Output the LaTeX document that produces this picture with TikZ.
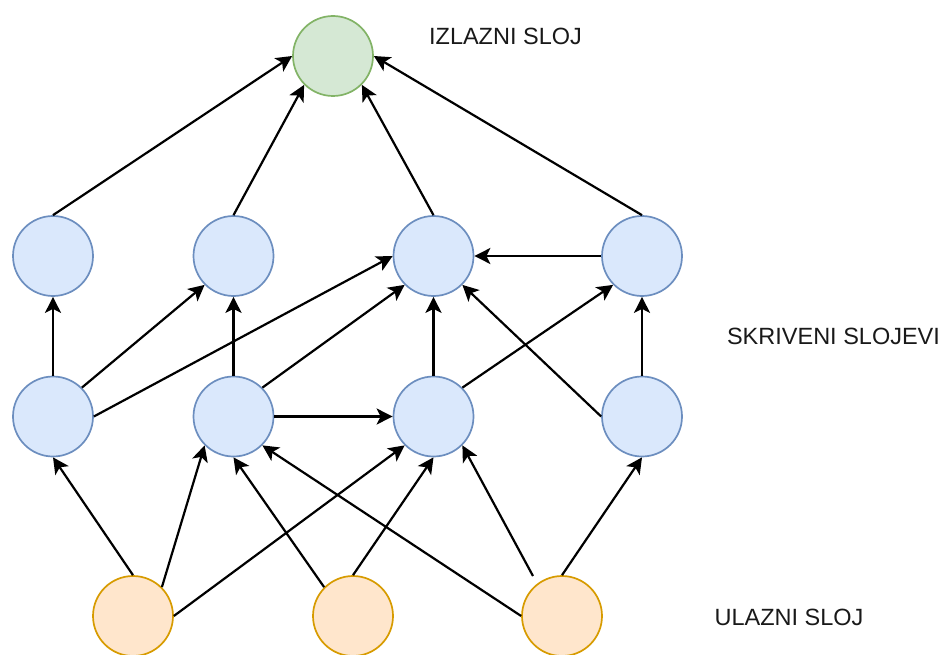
\documentclass[tikz,border=0pt]{standalone}
\usepackage{fontspec}
\setmainfont{Liberation Sans}
\usetikzlibrary{arrows.meta}
\definecolor{bfill}{HTML}{DAE8FC}
\definecolor{bdraw}{HTML}{6C8EBF}
\definecolor{gfill}{HTML}{D5E8D4}
\definecolor{gdraw}{HTML}{82B366}
\definecolor{ofill}{HTML}{FFE6CC}
\definecolor{odraw}{HTML}{D79B00}
\begin{document}
\begin{tikzpicture}[x=1pt,y=-1pt,
  neuron/.style={circle, draw, line width=1.7pt, minimum size=80pt, inner sep=0pt},
  hid/.style={neuron, fill=bfill, draw=bdraw},
  outn/.style={neuron, fill=gfill, draw=gdraw},
  inn/.style={neuron, fill=ofill, draw=odraw},
  conn/.style={line width=2.2pt, -{Stealth[length=16pt,width=16pt,inset=4pt]}},
  lbl/.style={font=\fontsize{23.5}{28}\selectfont, inner sep=0pt, anchor=center, text=black!90}]
\useasboundingbox (0,0) rectangle (944,655);

% nodes
\node[outn] (out) at (333,56) {};
\node[hid] (a1) at (53,256) {};
\node[hid] (a2) at (233.5,256) {};
\node[hid] (a3) at (433.5,256) {};
\node[hid] (a4) at (642,256) {};
\node[hid] (b1) at (53,416.5) {};
\node[hid] (b2) at (233.5,416.5) {};
\node[hid] (b3) at (433.5,416.5) {};
\node[hid] (b4) at (642,416.5) {};
\node[inn] (i1) at (133,616) {};
\node[inn] (i2) at (353,616) {};
\node[inn] (i3) at (562,616) {};
\coordinate (i3s) at (533,576);

% labels
\node[lbl] (lo) at (505.5,36) {IZLAZNI SLOJ};
\node[lbl] (lh) at (833.5,336) {SKRIVENI SLOJEVI};
\node[lbl] (li) at (789,617) {ULAZNI SLOJ};

% to output
\draw[conn] (a1.90) -- (out.180);
\draw[conn] (a2.90) -- (out.225);
\draw[conn] (a3.90) -- (out.315);
\draw[conn] (a4.90) -- (out.0);

% hidden 2
\draw[conn] (a4.180) -- (a3.0);

% hidden 1 -> hidden 2
\draw[conn] (b1.90) -- (a1.270);
\draw[conn] (b1.45) -- (a2.225);
\draw[conn] (b1.0) -- (a3.180);
\draw[conn] (b2.90) -- (a2.270);
\draw[conn] (b2.45) -- (a3.225);
\draw[conn] (b2.0) -- (b3.180);
\draw[conn] (b3.90) -- (a3.270);
\draw[conn] (b3.45) -- (a4.225);
\draw[conn] (b4.180) -- (a3.315);
\draw[conn] (b4.90) -- (a4.270);

% input -> hidden 1
\draw[conn] (i1.90) -- (b1.270);
\draw[conn] (i1.45) -- (b2.225);
\draw[conn] (i1.0) -- (b3.225);
\draw[conn] (i2.135) -- (b2.270);
\draw[conn] (i2.90) -- (b3.270);
\draw[conn] (i3.180) -- (b2.315);
\draw[conn] (i3s) -- (b3.315);
\draw[conn] (i3.90) -- (b4.270);
\end{tikzpicture}
\end{document}
